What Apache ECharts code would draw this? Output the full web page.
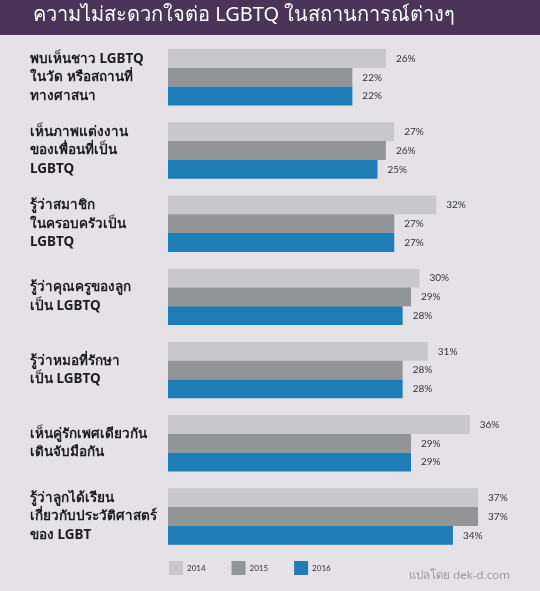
<!DOCTYPE html>
<html><head><meta charset="utf-8">
<script src="https://cdn.jsdelivr.net/npm/echarts@6/dist/echarts.min.js"></script>
<style>html,body{margin:0;padding:0;background:#e4e2e7}#c{width:540px;height:591px}</style>
</head><body><div id="c"></div><script>
const titleText = 'ความไม่สะดวกใจต่อ LGBTQ ในสถานการณ์ต่างๆ';
const footerText = 'แปลโดย dek-d.com';
const categories = [
  'พบเห็นชาว LGBTQ\nในวัด หรือสถานที่\nทางศาสนา',
  'เห็นภาพแต่งงาน\nของเพื่อนที่เป็น\nLGBTQ',
  'รู้ว่าสมาชิก\nในครอบครัวเป็น\nLGBTQ',
  'รู้ว่าคุณครูของลูก\nเป็น LGBTQ',
  'รู้ว่าหมอที่รักษา\nเป็น LGBTQ',
  'เห็นคู่รักเพศเดียวกัน\nเดินจับมือกัน',
  'รู้ว่าลูกได้เรียน\nเกี่ยวกับประวัติศาสตร์\nของ LGBT'
];
const years = ['2014', '2015', '2016'];
const v2014 = [26, 27, 32, 30, 31, 36, 37];
const v2015 = [22, 26, 27, 29, 28, 29, 37];
const v2016 = [22, 25, 27, 28, 28, 29, 34];
const colors = ['#c8c8ca', '#939496', '#1f7db5'];

const chart = echarts.init(document.getElementById('c'));
const seriesData = [v2014, v2015, v2016];
chart.setOption({
  backgroundColor: '#e4e2e7',
  animation: false,
  graphic: [{ type: 'rect', left: 0, top: 0, shape: { width: 540, height: 35 }, style: { fill: '#4b3457' }, z: -1 }],
  title: [
    { text: titleText, left: 33, top: 5, padding: 0, textStyle: { color: '#ffffff', fontSize: 20, fontWeight: 'normal', fontFamily: 'Noto Sans' } },
    { text: footerText, right: 30, top: 570, padding: 0, textStyle: { color: '#9a9a9e', fontSize: 11.5, fontWeight: 'normal', fontFamily: 'Noto Sans' } }
  ],
  legend: {
    left: 169, top: 561, padding: 0, itemWidth: 14, itemHeight: 14, itemGap: 26, icon: 'rect',
    data: years,
    textStyle: { fontSize: 8, color: '#333', fontFamily: 'Lato', padding: [0, 0, 0, -1] }
  },
  grid: { left: 168, top: 40.7, width: 335.2, height: 512.4 },
  xAxis: { type: 'value', min: 0, max: 40, show: false },
  yAxis: {
    type: 'category', inverse: true, data: categories,
    axisLine: { show: false }, axisTick: { show: false }, splitLine: { show: false },
    axisLabel: { align: 'left', margin: 138, fontSize: 13.5, fontWeight: 'bold', color: '#1c1c1c', lineHeight: 18.5, fontFamily: 'Noto Sans' }
  },
  series: years.map((y, i) => ({
    name: y, type: 'bar', data: seriesData[i], barWidth: 18.8, barGap: '0%',
    itemStyle: { color: colors[i] },
    label: { show: true, position: 'right', distance: 10, formatter: '{c}%', fontSize: 10, color: '#333', fontFamily: 'Lato' }
  }))
});
</script></body></html>
